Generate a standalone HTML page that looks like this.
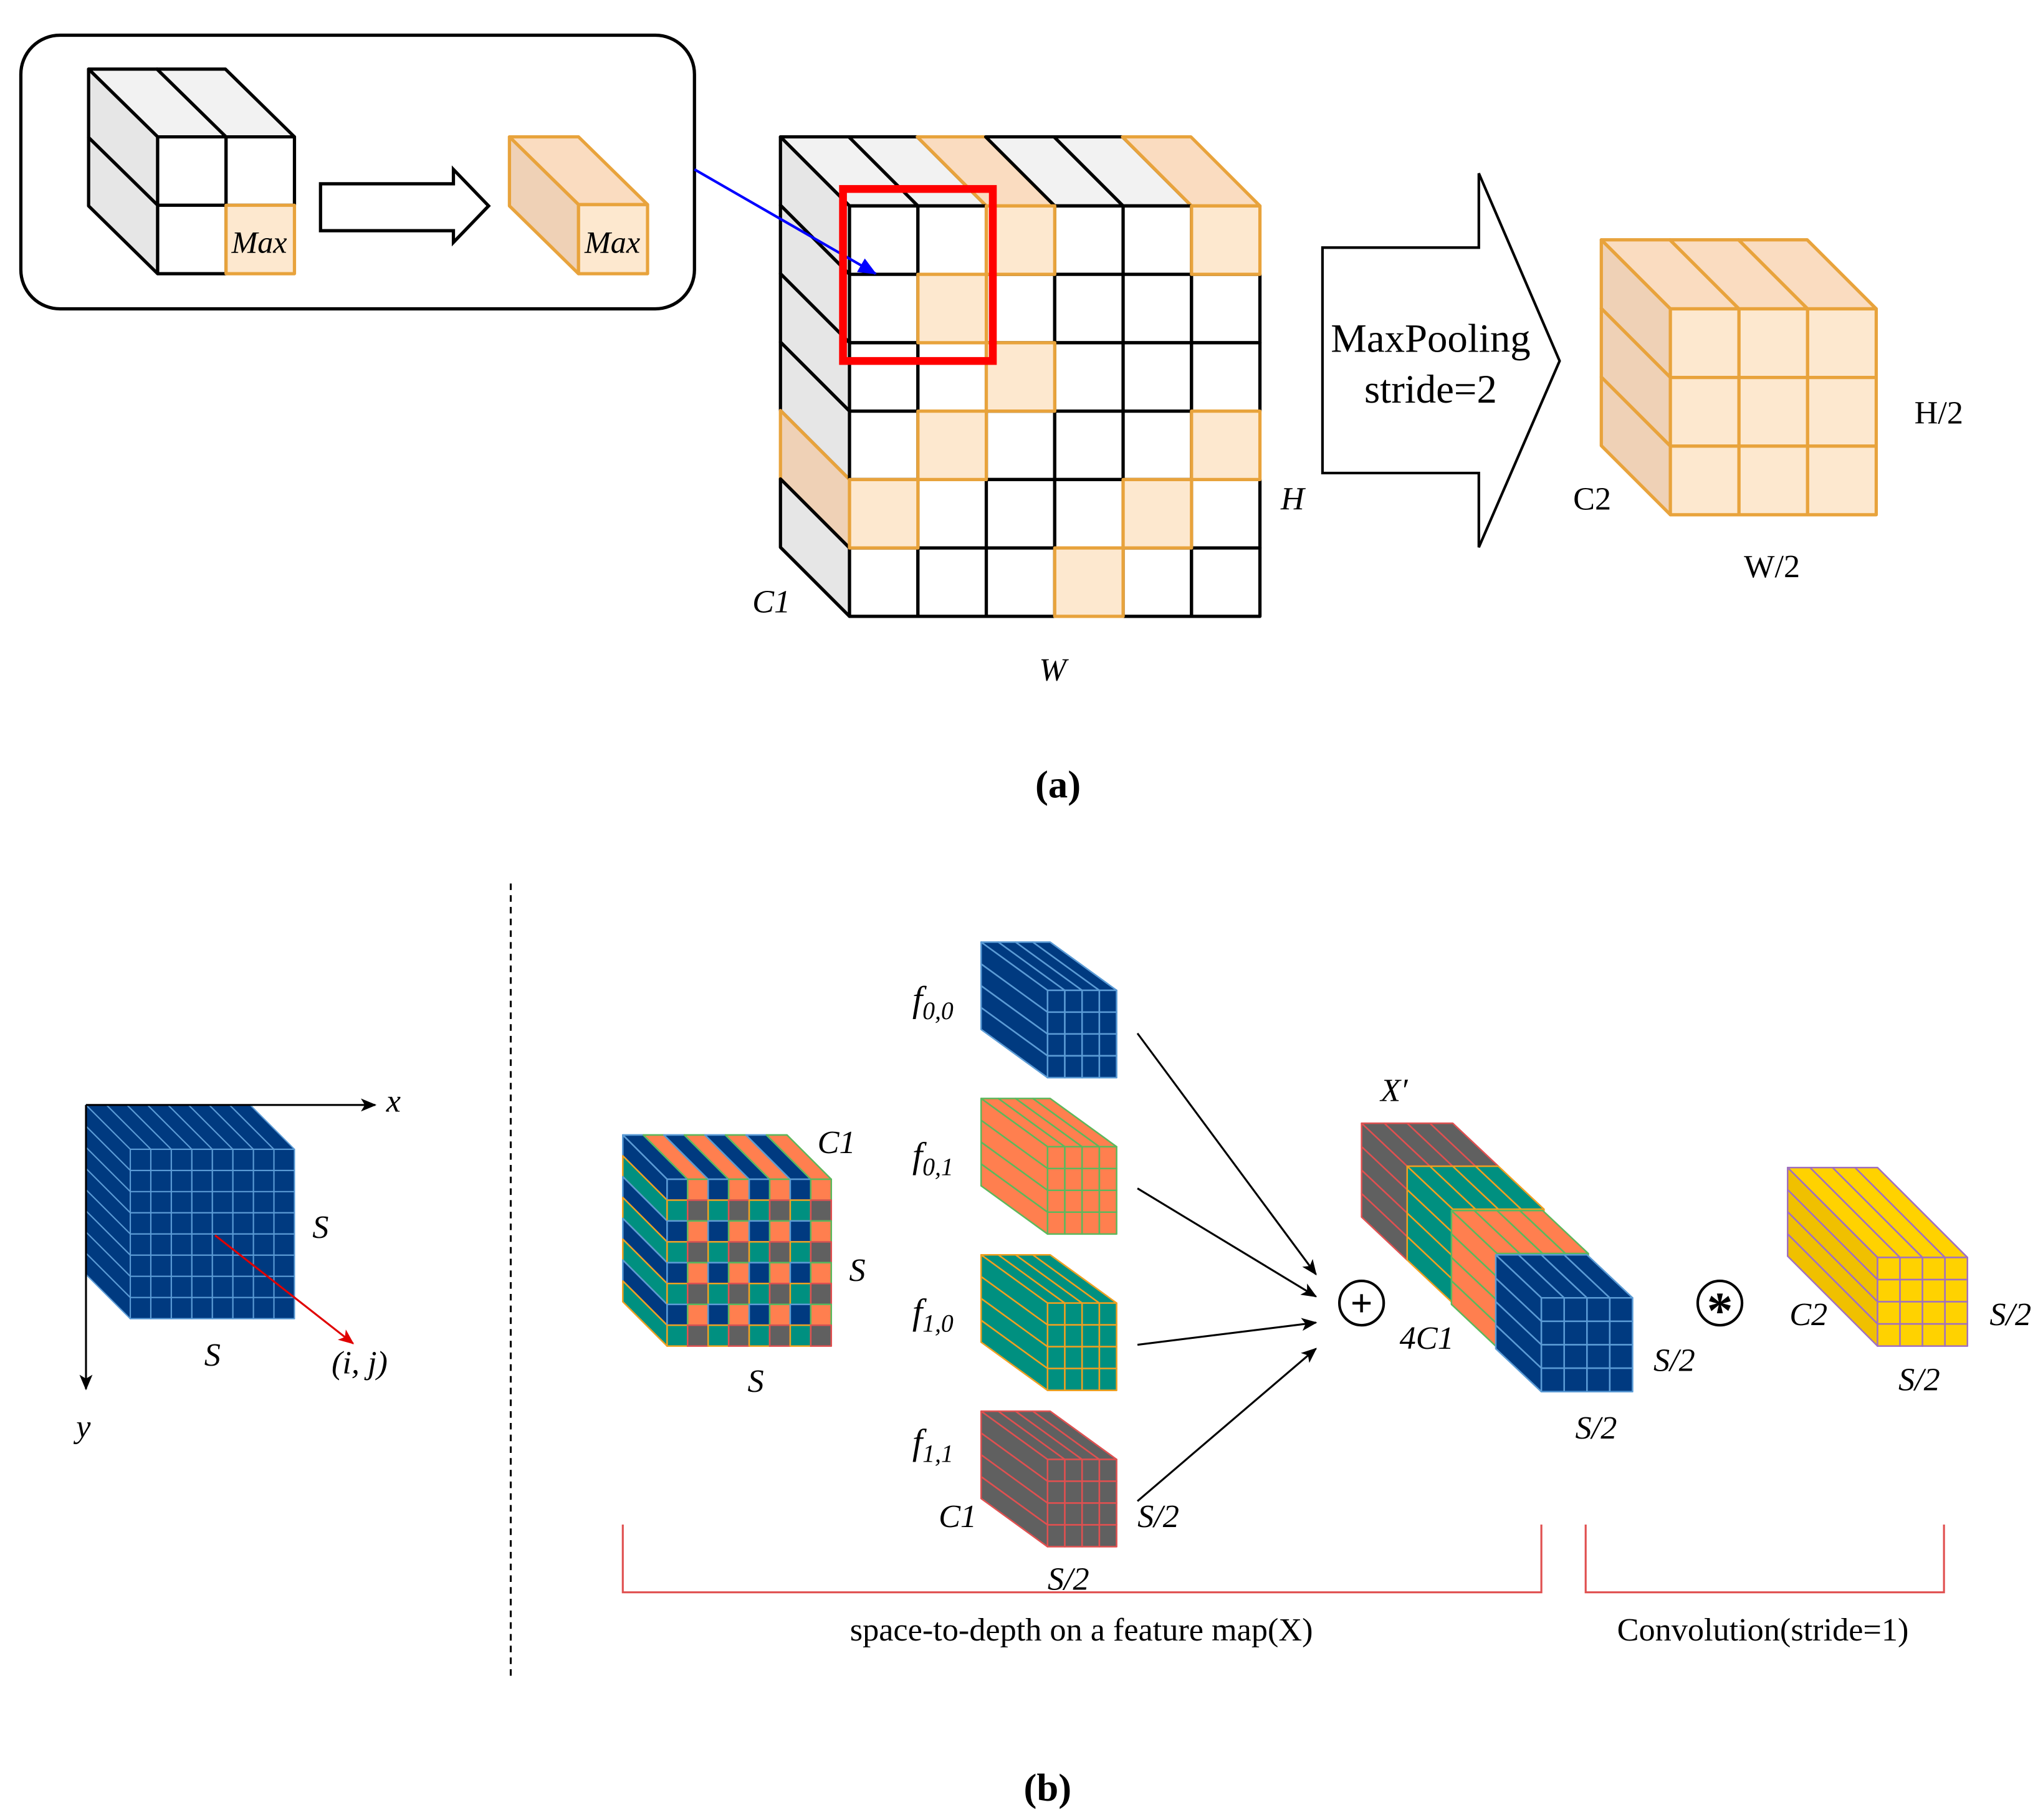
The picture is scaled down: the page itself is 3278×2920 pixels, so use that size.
<!DOCTYPE html>
<html><head><meta charset="utf-8"><style>
html,body{margin:0;padding:0;background:#fff;}
svg{display:block;}
text{font-family:"Liberation Serif",serif;}
.it{font-style:italic;}
</style></head><body>
<svg id="s" width="3278" height="2920" viewBox="0 0 1568 1396.7" xmlns="http://www.w3.org/2000/svg">
<defs>
<marker id="ab" markerWidth="14" markerHeight="12" refX="13" refY="6" orient="auto" markerUnits="userSpaceOnUse"><path d="M0,0 L14,6 L0,12 Z" fill="#0000ff"/></marker>
<marker id="ak" markerWidth="12" markerHeight="10" refX="11" refY="5" orient="auto" markerUnits="userSpaceOnUse"><path d="M0,0 L12,5 L0,10 L3,5 Z" fill="#000"/></marker>
<marker id="ar" markerWidth="12" markerHeight="10" refX="11" refY="5" orient="auto" markerUnits="userSpaceOnUse"><path d="M0,0 L12,5 L0,10 L3,5 Z" fill="#e00000"/></marker>
</defs>
<g id="shapes"></g>
<!-- (a) -->
<rect x="16" y="27" width="517" height="210" rx="30" fill="none" stroke="#000" stroke-width="2.5"/>
<path d="M246,141 L348,141 L348,130 L375,158 L348,186 L348,177 L246,177 Z" fill="#fff" stroke="#000" stroke-width="2.5"/>
<line x1="533" y1="130" x2="672" y2="210" stroke="#0000ff" stroke-width="2" marker-end="url(#ab)"/>
<rect x="647" y="145" width="115" height="132" fill="none" stroke="#ff0000" stroke-width="6"/>
<path d="M1015,190 L1135,190 L1135,133 L1197,277 L1135,420 L1135,363 L1015,363 Z" fill="#fff" stroke="#000" stroke-width="2"/>
<text x="1098" y="270" font-size="31" text-anchor="middle">MaxPooling</text>
<text x="1098" y="309" font-size="31" text-anchor="middle">stride=2</text>
<text x="199" y="194" font-size="24" class="it" text-anchor="middle">Max</text>
<text x="470" y="194" font-size="24" class="it" text-anchor="middle">Max</text>
<text x="592" y="470" font-size="25" class="it" text-anchor="middle">C1</text>
<text x="992" y="391" font-size="25" class="it" text-anchor="middle">H</text>
<text x="808" y="522" font-size="25" class="it" text-anchor="middle">W</text>
<text x="1488" y="325" font-size="25" text-anchor="middle">H/2</text>
<text x="1222" y="391" font-size="25" text-anchor="middle">C2</text>
<text x="1360" y="443" font-size="25" text-anchor="middle">W/2</text>
<text x="812" y="612" font-size="30" font-weight="bold" text-anchor="middle">(a)</text>
<!-- (b) -->
<line x1="392" y1="678" x2="392" y2="1290" stroke="#000" stroke-width="1.5" stroke-dasharray="5,4"/>
<line x1="66" y1="848" x2="288" y2="848" stroke="#000" stroke-width="1.5" marker-end="url(#ak)"/>
<line x1="66" y1="848" x2="66" y2="1066" stroke="#000" stroke-width="1.5" marker-end="url(#ak)"/>
<line x1="165" y1="948" x2="271" y2="1031" stroke="#e00000" stroke-width="1.5" marker-end="url(#ar)"/>
<text x="302" y="853" font-size="25" class="it" text-anchor="middle">x</text>
<text x="64" y="1103" font-size="25" class="it" text-anchor="middle">y</text>
<text x="276" y="1054" font-size="25" class="it" text-anchor="middle">(i, j)</text>
<text x="246" y="950" font-size="25" class="it" text-anchor="middle">S</text>
<text x="163" y="1048" font-size="25" class="it" text-anchor="middle">S</text>
<text x="642" y="885" font-size="25" class="it" text-anchor="middle">C1</text>
<text x="658" y="983" font-size="25" class="it" text-anchor="middle">S</text>
<text x="580" y="1068" font-size="25" class="it" text-anchor="middle">S</text>
<text x="716" y="776" font-size="28" class="it" text-anchor="middle">f<tspan font-size="19" dy="6">0,0</tspan></text>
<text x="716" y="896" font-size="28" class="it" text-anchor="middle">f<tspan font-size="19" dy="6">0,1</tspan></text>
<text x="716" y="1016" font-size="28" class="it" text-anchor="middle">f<tspan font-size="19" dy="6">1,0</tspan></text>
<text x="716" y="1116" font-size="28" class="it" text-anchor="middle">f<tspan font-size="19" dy="6">1,1</tspan></text>
<text x="735" y="1172" font-size="25" class="it" text-anchor="middle">C1</text>
<text x="889" y="1172" font-size="25" class="it" text-anchor="middle">S/2</text>
<text x="820" y="1220" font-size="25" class="it" text-anchor="middle">S/2</text>
<line x1="873" y1="793" x2="1010" y2="978" stroke="#000" stroke-width="1.5" marker-end="url(#ak)"/>
<line x1="873" y1="912" x2="1010" y2="995" stroke="#000" stroke-width="1.5" marker-end="url(#ak)"/>
<line x1="873" y1="1032" x2="1010" y2="1015" stroke="#000" stroke-width="1.5" marker-end="url(#ak)"/>
<line x1="873" y1="1152" x2="1010" y2="1035" stroke="#000" stroke-width="1.5" marker-end="url(#ak)"/>
<circle cx="1045" cy="1000" r="17" fill="#fff" stroke="#000" stroke-width="2"/>
<text x="1045" y="1010" font-size="30" font-weight="bold" text-anchor="middle" font-family="Liberation Sans">+</text>
<circle cx="1320" cy="1000" r="17" fill="#fff" stroke="#000" stroke-width="2"/>
<text x="1320" y="1019" font-size="40" font-weight="bold" text-anchor="middle" font-family="Liberation Sans">*</text>
<text x="1070" y="845" font-size="25" class="it" text-anchor="middle">X′</text>
<text x="1095" y="1035" font-size="25" class="it" text-anchor="middle">4C1</text>
<text x="1285" y="1052" font-size="25" class="it" text-anchor="middle">S/2</text>
<text x="1225" y="1104" font-size="25" class="it" text-anchor="middle">S/2</text>
<text x="1388" y="1017" font-size="25" class="it" text-anchor="middle">C2</text>
<text x="1543" y="1017" font-size="25" class="it" text-anchor="middle">S/2</text>
<text x="1473" y="1067" font-size="25" class="it" text-anchor="middle">S/2</text>
<path d="M478,1170 L478,1222 L1183,1222 L1183,1170" fill="none" stroke="#e05050" stroke-width="1.5"/>
<path d="M1217,1170 L1217,1222 L1492,1222 L1492,1170" fill="none" stroke="#e05050" stroke-width="1.5"/>
<text x="830" y="1259" font-size="25" text-anchor="middle">space-to-depth on a feature map(X)</text>
<text x="1353" y="1259" font-size="25" text-anchor="middle">Convolution(stride=1)</text>
<text x="804" y="1382" font-size="30" font-weight="bold" text-anchor="middle">(b)</text>
</svg>
<script>
var g=document.getElementById('shapes'),NS='http://www.w3.org/2000/svg';
function poly(pts,fill,stroke,w){var p=document.createElementNS(NS,'polygon');p.setAttribute('points',pts.map(function(q){return q[0]+','+q[1]}).join(' '));p.setAttribute('fill',fill);p.setAttribute('stroke',stroke);p.setAttribute('stroke-width',w);p.setAttribute('stroke-linejoin','round');g.appendChild(p);}
function cube(o){
 var fx=o.fx,fy=o.fy,W=o.w,H=o.h,dx=o.dx,dy=o.dy,nc=o.nc,nr=o.nr,nd=o.nd;
 var cw=W/nc,rh=H/nr,ddx=dx/nd,ddy=dy/nd;
 for(var c=0;c<nc;c++)for(var d=0;d<nd;d++){
  var x0=fx+c*cw-dx+d*ddx,y0=fy-dy+d*ddy;
  var s=o.top(c,d);poly([[x0,y0],[x0+cw,y0],[x0+cw+ddx,y0+ddy],[x0+ddx,y0+ddy]],s[0],s[1],o.sw);}
 for(var r=0;r<nr;r++)for(var d=0;d<nd;d++){
  var x0=fx-dx+d*ddx,y0=fy+r*rh-dy+d*ddy;
  var s=o.left(r,d);poly([[x0,y0],[x0+ddx,y0+ddy],[x0+ddx,y0+ddy+rh],[x0,y0+rh]],s[0],s[1],o.sw);}
 var cells=[];for(var r=0;r<nr;r++)for(var c=0;c<nc;c++)cells.push([c,r,o.front(c,r)]);
 cells.sort(function(a,b){return (a[2][2]||0)-(b[2][2]||0)});
 cells.forEach(function(e){var x=fx+e[0]*cw,y=fy+e[1]*rh;poly([[x,y],[x+cw,y],[x+cw,y+rh],[x,y+rh]],e[2][0],e[2][1],o.sw);});
}
var OR='#e8a33c',OF='#fde8cf',OT='#fadcc0',OL='#efd1b6';
cube({fx:121,fy:105,w:105,h:105,dx:53,dy:52,nc:2,nr:2,nd:1,sw:2.5,
 top:function(){return['#f2f2f2','#000']},left:function(){return['#e6e6e6','#000']},
 front:function(c,r){return (c==1&&r==1)?[OF,OR,1]:['#fff','#000',0]}});
cube({fx:444,fy:157,w:53,h:53,dx:53,dy:52,nc:1,nr:1,nd:1,sw:2.5,
 top:function(){return[OT,OR]},left:function(){return[OL,OR]},front:function(){return[OF,OR,1]}});
var hi={'2,0':1,'5,0':1,'1,1':1,'2,2':1,'1,3':1,'5,3':1,'0,4':1,'4,4':1,'3,5':1};
cube({fx:652,fy:158,w:315,h:315,dx:53,dy:53,nc:6,nr:6,nd:1,sw:2.5,
 top:function(c){return (c==2||c==5)?[OT,OR]:['#f2f2f2','#000']},
 left:function(r){return r==4?[OL,OR]:['#e6e6e6','#000']},
 front:function(c,r){return hi[c+','+r]?[OF,OR,1]:['#fff','#000',0]}});
cube({fx:1282,fy:237,w:158,h:158,dx:53,dy:53,nc:3,nr:3,nd:1,sw:2.5,
 top:function(){return[OT,OR]},left:function(){return[OL,OR]},front:function(){return[OF,OR,1]}});
var BL=['#003a80','#5b9bd5'],ORG=['#ff7f4f','#5cb85c'],TE=['#009080','#f0a020'],GR=['#606060','#e05050'],YE=['#ffd200','#a070c0'];
cube({fx:100,fy:882,w:126,h:130,dx:34,dy:34,nc:8,nr:8,nd:1,sw:1,
 top:function(){return BL},left:function(){return BL},front:function(){return BL.concat([0])}});
cube({fx:512,fy:905,w:126,h:128,dx:34,dy:34,nc:8,nr:8,nd:1,sw:1.2,
 top:function(c){return c%2?ORG:BL},left:function(r){return r%2?TE:BL},
 front:function(c,r){var s=(r%2==0)?(c%2?ORG:BL):(c%2?GR:TE);return s.concat([0])}});
[[760,BL],[880,ORG],[1000,TE],[1120,GR]].forEach(function(a){
 var C=a[1];cube({fx:804,fy:a[0],w:53,h:67,dx:51,dy:37,nc:4,nr:4,nd:1,sw:1.2,
 top:function(){return C},left:function(){return C},front:function(){return C.concat([0])}});});
[[1045,862,GR],[1080,895,TE],[1114,929,ORG],[1148,963,BL]].forEach(function(a){
 var C=a[2];cube({fx:a[0]+35,fy:a[1]+33,w:70,h:72,dx:35,dy:33,nc:4,nr:4,nd:1,sw:1.2,
 top:function(){return C},left:function(){return C},front:function(){return C.concat([0])}});});
cube({fx:1441,fy:965,w:69,h:68,dx:69,dy:69,nc:4,nr:4,nd:1,sw:1.2,
 top:function(){return YE},left:function(){return ['#f0c000','#a070c0']},front:function(){return YE.concat([0])}});
</script>
</body></html>
